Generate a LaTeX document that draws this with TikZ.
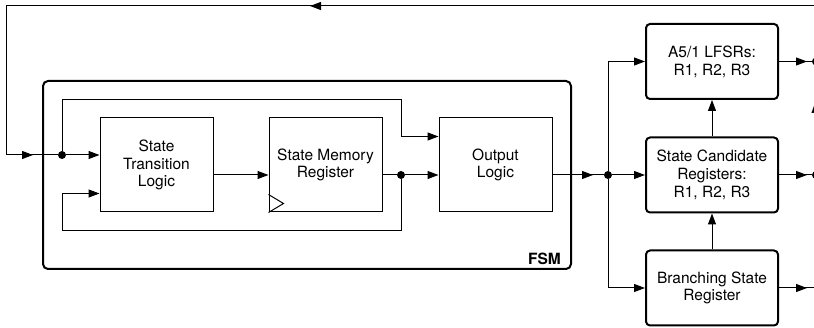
\documentclass[tikz,border=0pt]{standalone}
\usepackage{fontspec}
\setmainfont{TeX Gyre Heros}
\usetikzlibrary{calc,arrows.meta}

\begin{document}
\begin{tikzpicture}[x=1pt,y=-1pt,
  font=\fontsize{15.5}{17.8}\selectfont,
  wire/.style={line width=1pt},
  sig/.style={wire,-{Triangle[length=11pt,width=8pt]}},
  logic/.style={draw,line width=1pt,minimum width=113pt,minimum height=94pt,align=center,inner sep=0pt},
  reg/.style={draw,line width=2pt,rounded corners=4pt,minimum width=132pt,minimum height=75pt,align=center,inner sep=0pt},
  junc/.style={circle,fill,inner sep=0pt,minimum size=8pt}]
\useasboundingbox (0,0) rectangle (814,328);

% FSM frame
\node[draw,line width=2pt,rounded corners=5pt,minimum width=528pt,minimum height=188pt] (fsm) at (307,175) {};
\node[font=\fontsize{15.5}{17.8}\selectfont\bfseries,anchor=base east,inner sep=0pt] (fsmlabel) at (561,265) {FSM};

% blocks inside the FSM
\node[logic] (stl) at (156.5,165) {State\\Transition\\Logic};
\node[logic] (smr) at (325.5,165) {State Memory\\Register};
\node[logic] (ol) at (495.5,165) {Output\\Logic};
\draw[wire] (smr.south west) ++(0,-18) -- ++(15,9) -- (smr.south west);

% registers
\node[reg] (a51) at (712,61.5) {A5/1 LFSRs:\\R1, R2, R3};
\node[reg] (scr) at (712,175) {State Candidate\\Registers:\\R1, R2, R3};
\node[reg] (bsr) at (712,288) {Branching State\\Register};
\node[font=\fontsize{15.5}{17.8}\selectfont\bfseries,anchor=base west,inner sep=0pt] (alabel) at (811,114) {A};

% junctions
\node[junc] (j1) at (62,155) {};
\node[junc] (j2) at (401,175) {};
\node[junc] (j3) at (608,175) {};
\node[junc] (oa) at (816,61.5) {};
\node[junc] (os) at (816,175) {};
\coordinate (ob) at (814,288);
\coordinate (fbin) at (814,6);
\coordinate (olin) at ($(ol.north west)+(0,19)$);
\coordinate (stlin) at ($(stl.south west)+(0,-19)$);

% feedback from the right
\draw[wire] (fbin) -- (6,6) -- (6,155) -- (j1);
\draw[sig] (345,6) -- (310,6);
\draw[sig] (6,155) -- (33,155);

% FSM wiring
\draw[sig] (j1) -- (stl.west |- j1);
\draw[sig] (j1) |- (401,100) |- (olin);
\draw[sig] (j2) |- (62,231) |- (stlin);
\draw[sig] (stl.east |- j2) -- (smr.west |- j2);
\draw[wire] (smr.east |- j2) -- (j2);
\draw[sig] (j2) -- (ol.west |- j2);
\draw[wire] (ol.east |- j3) -- (j3);
\draw[sig] (ol.east |- j3) -- (593,175);

% to the registers
\draw[sig] (j3) -- (scr.west);
\draw[sig] (j3) |- (a51.west);
\draw[sig] (j3) |- (bsr.west);
\draw[sig] (scr) -- (a51);
\draw[sig] (bsr) -- (scr);

% outputs
\draw[wire] (a51.east) -- (oa);
\draw[sig] (a51.east) -- ++(28,0);
\draw[wire] (scr.east) -- (os);
\draw[sig] (scr.east) -- ++(28,0);
\draw[wire] (bsr.east) -- (ob);
\draw[sig] (bsr.east) -- ++(28,0);
\end{tikzpicture}
\end{document}
